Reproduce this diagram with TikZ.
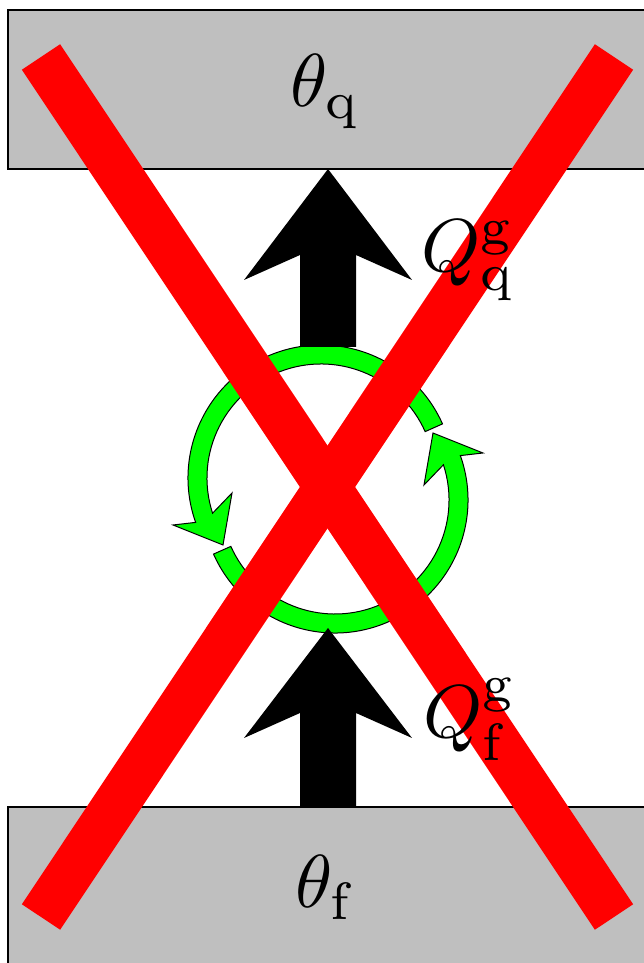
\documentclass[tikz,border=0pt]{standalone}
\usepackage{graphicx}
\begin{document}
\begin{tikzpicture}[x=1pt,y=1pt,
  reservoir/.style={fill=lightgray,draw=black,line width=1.3pt},
  heatarrow/.style={fill=black},
  cyclearc/.style={fill=green,draw=black,line width=1pt},
  cross/.style={draw=red,line width=46pt},
  lbl/.style={inner sep=0pt}]
\useasboundingbox (0,0) rectangle (644,963);
\clip (0,0) rectangle (644,963);
% reservoirs
\path[reservoir] (8,794) rectangle (700,953);
\path[reservoir] (8,-40) rectangle (700,156);
% cycle arrows
\path[cyclearc] ([shift={(321,485)}]24:133) arc[start angle=24,end angle=199.5,radius=133pt]
  -- (173,438) -- (223,418) -- (232,470)
  -- ([shift={(321,485)}]198:114) arc[start angle=198,end angle=24,radius=114pt] -- cycle;
\path[cyclearc,rotate around={180:(328,474)}] ([shift={(321,485)}]24:133) arc[start angle=24,end angle=199.5,radius=133pt]
  -- (173,438) -- (223,418) -- (232,470)
  -- ([shift={(321,485)}]198:114) arc[start angle=198,end angle=24,radius=114pt] -- cycle;
% heat arrows
\path[heatarrow] (300,616) -- (300,708) -- (244,683) -- (328,794) -- (412,683) -- (356,708) -- (356,616) -- cycle;
\path[heatarrow] (300,156) -- (300,250) -- (244,225) -- (328,335) -- (412,225) -- (356,250) -- (356,156) -- cycle;
% red cross
\coordinate (tl) at (41,906);
\coordinate (tr) at (614,906);
\coordinate (bl) at (41,46);
\coordinate (br) at (614,46);
\draw[cross] (tl) -- (br);
\draw[cross] (tr) -- (bl);
% labels
\node[lbl,anchor=base] (thq) at (326,856) {\scalebox{7.5}{$\theta_{\mathrm{q}}$}};
\node[lbl,anchor=base] (thf) at (326,55) {\scalebox{7.5}{$\theta_{\mathrm{f}}$}};
\node[lbl,anchor=base west] (qq) at (421,691) {\scalebox{7.5}{$Q_{\mathrm{q}}^{\mathrm{g}}$}};
\node[lbl,anchor=base west] (qf) at (423,225) {\scalebox{7.5}{$Q_{\mathrm{f}}^{\mathrm{g}}$}};
\end{tikzpicture}
\end{document}
